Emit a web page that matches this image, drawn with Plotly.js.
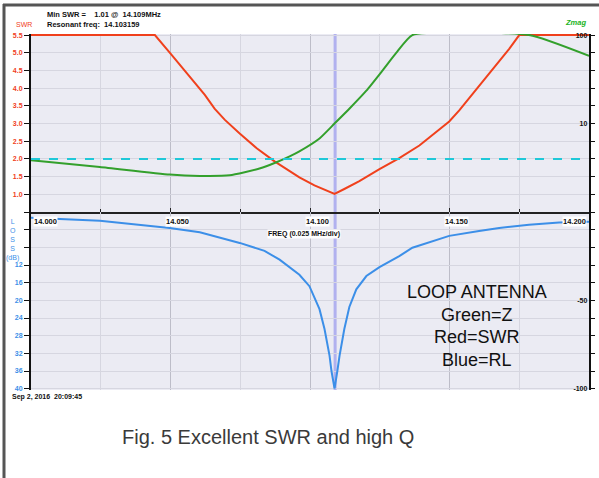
<!DOCTYPE html>
<html>
<head>
<meta charset="utf-8">
<script src="https://cdn.plot.ly/plotly-3.0.1.min.js"></script>
<style>
  html, body { margin: 0; padding: 0; background: #ffffff; }
  #chart { width: 599px; height: 478px; }
</style>
</head>
<body>
<div id="chart"></div>
<script>
// ---- data ----
const freqSWR = [14.000, 14.0444, 14.0501, 14.0569, 14.0623, 14.0658, 14.0694, 14.0748, 14.0809, 14.0873,
                 14.0927, 14.0962, 14.1016, 14.1063, 14.1088, 14.1123, 14.1177, 14.1249, 14.1320, 14.1392,
                 14.1463, 14.1499, 14.1535, 14.1581, 14.1628, 14.1678, 14.1714, 14.1750, 14.2000];
const swr = [5.5, 5.5, 4.97, 4.32, 3.81, 3.42, 3.11, 2.72, 2.30, 1.93,
             1.65, 1.48, 1.25, 1.09, 1.01, 1.15, 1.37, 1.71, 2.02, 2.38,
             2.83, 3.06, 3.37, 3.81, 4.26, 4.74, 5.11, 5.5, 5.5];

const freqZ = [14.000, 14.0247, 14.0497, 14.0605, 14.0712, 14.0766, 14.0819, 14.0873, 14.0927, 14.0962,
               14.1034, 14.1088, 14.1141, 14.1202, 14.1259, 14.1309, 14.1367, 14.1785, 14.2000];
const zmag = [3.84, 3.23, 2.65, 2.56, 2.60, 2.81, 3.10, 3.58, 4.26, 4.85,
              6.78, 10.0, 14.7, 23.5, 39.4, 62.8, 100, 100, 58.1];

const freqRL = [14.000, 14.0247, 14.0497, 14.0605, 14.0748, 14.0837, 14.0891, 14.0962, 14.0998, 14.1034,
                14.1052, 14.1070, 14.1077, 14.1088, 14.1098, 14.1106, 14.1123, 14.1141, 14.1166, 14.1202,
                14.1249, 14.1320, 14.1367, 14.1499, 14.1606, 14.1678, 14.1785, 14.1893, 14.2000];
const returnLoss = [1.3, 2.0, 3.6, 4.6, 7.0, 8.8, 10.8, 14.2, 16.8, 22.0,
                    26.5, 32.5, 36.0, 40.0, 36.0, 32.5, 26.5, 21.5, 17.5, 14.5,
                    12.5, 10.0, 8.1, 5.4, 4.3, 3.6, 2.9, 2.4, 2.2];

const minSwrFreq = 14.109;      // marker line
const swrReference = 2.0;       // dashed cyan reference

const xTickVals = [14.000, 14.050, 14.100, 14.150, 14.200];
const xTickText = ['14.000', '14.050', '14.100', '14.150', '14.200'];
const swrTickVals = [0.5, 1.0, 1.5, 2.0, 2.5, 3.0, 3.5, 4.0, 4.5, 5.0, 5.5];
const swrTickText = ['', '1.0', '1.5', '2.0', '2.5', '3.0', '3.5', '4.0', '4.5', '5.0', '5.5'];
const zTickExp = [0, 0.2, 0.4, 0.6, 0.8, 1.0, 1.2, 1.4, 1.6, 1.8, 2.0];
const zTickText = ['', '', '', '', '', '10', '', '', '', '', '100'];
const rlTickVals = [0, 4, 8, 12, 16, 20, 24, 28, 32, 36, 40];
const rlTickText = ['', '', '', '12', '16', '20', '24', '28', '32', '36', '40'];
const phTickVals = [-100, -90, -80, -70, -60, -50, -40, -30, -20, -10, 0];
const phTickText = ['-100', '', '', '', '', '-50', '', '', '', '', ''];

const headerLines = ['Min SWR =    1.01 @  14.109MHz', 'Resonant freq:  14.103159'];
const legendLines = ['LOOP ANTENNA', 'Green=Z', 'Red=SWR', 'Blue=RL'];
const dateText = 'Sep 2, 2016  20:09:45';
const captionText = 'Fig. 5 Excellent SWR and high Q';

// ---- styling ----
const FONT = 'Liberation Sans, Arial, sans-serif';
const RED = '#f0401c', GREEN = '#33a02c', BLUE = '#3c8fe8', CYAN = '#1fc8d8';
const GRID = '#d6d6e0', GRID_MAJ = '#bdbdc8';

// plot area pixels: left 31, right 589, top 34, bottom 390
const L = 31, R = 589, T = 34, B = 390;
const px2x = p => (p - L) / (R - L);
const py2y = p => (B - p) / (B - T);

const traces = [
  { x: freqSWR, y: swr, xaxis: 'x', yaxis: 'y', mode: 'lines',
    line: { color: RED, width: 2 }, name: 'SWR', hoverinfo: 'x+y' },
  { x: freqZ, y: zmag, xaxis: 'x', yaxis: 'y2', mode: 'lines',
    line: { color: GREEN, width: 2, shape: 'spline', smoothing: 0.5 }, name: 'Zmag' },
  { x: freqRL, y: returnLoss, xaxis: 'x', yaxis: 'y3', mode: 'lines',
    line: { color: BLUE, width: 2 }, name: 'RL' },
  { x: [null], y: [null], xaxis: 'x', yaxis: 'y4', mode: 'lines', showlegend: false, hoverinfo: 'skip' }
];

const tickFont = (c) => ({ family: FONT, size: 7, color: c, weight: 'bold' });

const annotations = [];
// x tick labels along the SWR/RL boundary
xTickVals.forEach((v, i) => {
  const first = i === 0, last = i === xTickVals.length - 1;
  annotations.push({
    x: v, xref: 'x', y: py2y(222), yref: 'paper',
    text: xTickText[i], showarrow: false,
    xanchor: first ? 'left' : (last ? 'right' : 'center'),
    xshift: first ? 2 : (last ? -2 : 7),
    yanchor: 'middle', bgcolor: '#ffffff', borderpad: 0,
    font: { family: FONT, size: 7.5, color: '#111', weight: 'bold' }
  });
});
annotations.push({
  x: px2x(304), xref: 'paper', y: py2y(234), yref: 'paper', text: 'FREQ (0.025 MHz/div)',
  showarrow: false, xanchor: 'center', yanchor: 'middle', bgcolor: '#ffffff', borderpad: 0,
  font: { family: FONT, size: 7, color: '#111', weight: 'bold' }
});
// header
headerLines.forEach((t, i) => {
  annotations.push({
    x: px2x(45), xref: 'paper', y: py2y(14 + 10 * i), yref: 'paper', text: t,
    showarrow: false, xanchor: 'left', yanchor: 'middle',
    font: { family: FONT, size: 7.5, color: '#111', weight: 'bold' }
  });
});
annotations.push({
  x: px2x(24), xref: 'paper', y: py2y(24), yref: 'paper', text: 'SWR', showarrow: false,
  xanchor: 'center', yanchor: 'middle', font: { family: FONT, size: 7, color: RED }
});
annotations.push({
  x: px2x(575), xref: 'paper', y: py2y(23), yref: 'paper', text: '<i><b>Zmag</b></i>', showarrow: false,
  xanchor: 'center', yanchor: 'middle', font: { family: FONT, size: 7.5, color: '#22b41e' }
});
annotations.push({
  x: px2x(12), xref: 'paper', y: py2y(240), yref: 'paper', text: 'L<br>O<br>S<br>S<br>(dB)', showarrow: false,
  xanchor: 'center', yanchor: 'middle', font: { family: FONT, size: 7, color: BLUE }
});
// legend text block
legendLines.forEach((t, i) => {
  annotations.push({
    x: px2x(477), xref: 'paper', y: py2y(292 + 22.5 * i), yref: 'paper', text: t,
    showarrow: false, xanchor: 'center', yanchor: 'middle',
    font: { family: FONT, size: 18, color: '#111' }
  });
});
annotations.push({
  x: px2x(10), xref: 'paper', y: py2y(397), yref: 'paper', text: dateText, showarrow: false,
  xanchor: 'left', yanchor: 'middle', font: { family: FONT, size: 7, color: '#111', weight: 'bold' }
});
annotations.push({
  x: px2x(268), xref: 'paper', y: py2y(437), yref: 'paper', text: captionText, showarrow: false,
  xanchor: 'center', yanchor: 'middle', font: { family: FONT, size: 20, color: '#3a3a3a' }
});

const shapes = [
  { type: 'line', xref: 'x', yref: 'paper', x0: minSwrFreq, x1: minSwrFreq, y0: 0, y1: 1,
    line: { color: 'rgba(120,120,235,0.5)', width: 3 }, layer: 'below' },
  { type: 'line', xref: 'paper', yref: 'y', x0: 0, x1: 1, y0: swrReference, y1: swrReference,
    line: { color: CYAN, width: 2, dash: 'dash' }, layer: 'above' },
  // outer frame (left and top)
  { type: 'line', xref: 'paper', yref: 'paper', x0: px2x(4), x1: px2x(4), y0: py2y(4), y1: py2y(480),
    line: { color: '#555555', width: 3 }, layer: 'above' },
  { type: 'line', xref: 'paper', yref: 'paper', x0: px2x(3), x1: px2x(600), y0: py2y(5), y1: py2y(5),
    line: { color: '#555555', width: 3 }, layer: 'above' }
];

const layout = {
  width: 599, height: 478,
  margin: { l: L, r: 599 - R, t: T, b: 478 - B, pad: 0 },
  paper_bgcolor: '#ffffff', plot_bgcolor: '#ebebf3',
  showlegend: false,
  font: { family: FONT },
  xaxis: {
    range: [14.0, 14.2], anchor: 'y', showline: true, linecolor: '#222', linewidth: 1.5,
    tickvals: xTickVals, showticklabels: false, ticks: 'inside', ticklen: 4, tickcolor: '#222',
    showgrid: true, gridcolor: GRID_MAJ, gridwidth: 1, zeroline: false,
    minor: { dtick: 0.025, tick0: 14.0, showgrid: true, gridcolor: GRID, ticks: 'inside', ticklen: 3, tickcolor: '#222' }
  },
  yaxis: {
    domain: [0.5, 1], range: [0.5, 5.53], anchor: 'x',
    tickvals: swrTickVals, ticktext: swrTickText, tickfont: tickFont(RED),
    ticks: 'outside', ticklen: 5, tickcolor: '#111', showline: true, linecolor: '#111', linewidth: 2,
    showgrid: true, gridcolor: GRID, zeroline: false
  },
  yaxis2: {
    overlaying: 'y', side: 'right', anchor: 'x', type: 'log', range: [0, 2.012],
    tickvals: zTickExp.map(e => Math.pow(10, e)), ticktext: zTickText, tickfont: tickFont('#111'),
    ticklabelposition: 'inside', ticklabeloverflow: 'allow',
    ticks: 'outside', ticklen: 4, tickcolor: '#111', showline: true, linecolor: '#111', linewidth: 2,
    showgrid: false, zeroline: false
  },
  yaxis3: {
    domain: [0, 0.5], range: [40.3, 0], anchor: 'x',
    tickvals: rlTickVals, ticktext: rlTickText, tickfont: tickFont(BLUE),
    ticks: 'outside', ticklen: 5, tickcolor: '#111', showline: true, linecolor: '#111', linewidth: 2,
    showgrid: true, gridcolor: GRID, zeroline: false
  },
  yaxis4: {
    overlaying: 'y3', side: 'right', anchor: 'x', range: [-100.75, 0],
    tickvals: phTickVals, ticktext: phTickText, tickfont: tickFont('#111'),
    ticklabelposition: 'inside', ticklabeloverflow: 'allow',
    ticks: 'outside', ticklen: 4, tickcolor: '#111', showline: true, linecolor: '#111', linewidth: 2,
    showgrid: false, zeroline: false
  },
  annotations: annotations,
  shapes: shapes
};

Plotly.newPlot('chart', traces, layout, { staticPlot: true, displayModeBar: false });
</script>
</body>
</html>
